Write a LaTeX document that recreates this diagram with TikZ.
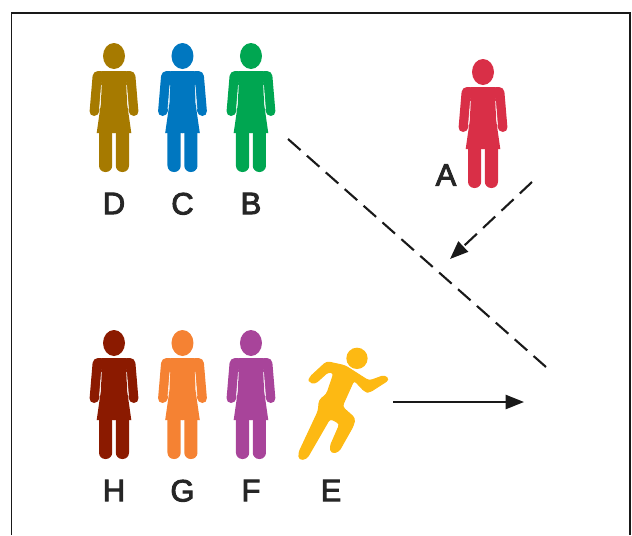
\documentclass[tikz,border=0pt]{standalone}
\usepackage{fontspec}
\setmainfont{Liberation Sans}
\newfontfamily\labelfont{Liberation Sans}[FakeBold=3]
\usetikzlibrary{positioning,arrows.meta}
\definecolor{dcol}{HTML}{A67A00}
\definecolor{ccol}{HTML}{0077C0}
\definecolor{bcol}{HTML}{00A651}
\definecolor{acol}{HTML}{D92F47}
\definecolor{hcol}{HTML}{8B1A00}
\definecolor{gcol}{HTML}{F58233}
\definecolor{fcol}{HTML}{A8449A}
\definecolor{ecol}{HTML}{FDB913}
\newcommand\dxp{1.37cm}
\newcommand\lab{2.99cm}
\tikzset{
  letter/.style={inner sep=0pt, text=black!85, font=\labelfont\fontsize{17.6}{20}\selectfont},
  link/.style={line width=1.2pt, black!90},
  broken/.style={dash pattern=on 9.5pt off 4.85pt},
  person/.pic={
    \fill[#1] (0,13) ellipse [x radius=11, y radius=13];
    \foreach \sx in {-1,1} {
      \begin{scope}[xscale=\sx]
        % torso and skirt
        \fill[#1] (0.3,28) -- (-12,28) -- (-13,60) -- (-17.3,90) -- (0.3,90) -- cycle;
        % arm
        \fill[#1, rounded corners=2.8pt] (-8,28) -- (-21,28) -- (-24.8,73) -- (-15,73) -- (-12.5,40) -- (-8,40) -- cycle;
        % leg
        \fill[#1, rounded corners=3.6pt] (-15,80) -- (-15,129) -- (-1.8,129) -- (-1.8,80) -- cycle;
        \draw[white, line width=0.3pt] (-12.6,42) -- (-14.6,66);
      \end{scope}
    }
  }
}
\begin{document}
\begin{tikzpicture}[x=0.02cm, y=-0.02cm]
  \useasboundingbox (0,0) rectangle (632,535);
  % frame, open at the bottom
  \coordinate (fa) at (11.5,535);
  \coordinate (fb) at (11.5,13);
  \coordinate (fc) at (630,13);
  \coordinate (fd) at (630,535);
  \draw[line width=0.8pt, black!90] (fa) -- (fb) -- (fc) -- (fd);
  % upper row
  \coordinate (d) at (114,43);
  \coordinate [right=\dxp of d] (c);
  \coordinate [right=\dxp of c] (b);
  \coordinate (a) at (483,59);
  % lower row
  \coordinate (h) at (114,330);
  \coordinate [right=\dxp of h] (g);
  \coordinate [right=\dxp of g] (f);
  \coordinate (e) at (331,330);
  \pic at (d) {person=dcol};
  \pic at (c) {person=ccol};
  \pic at (b) {person=bcol};
  \pic at (a) {person=acol};
  \pic at (h) {person=hcol};
  \pic at (g) {person=gcol};
  \pic at (f) {person=fcol};
  % runner
  \begin{scope}[shift={(290,335)}, x=0.02cm/3, y=-0.02cm/3]
    \fill[ecol] (201,70) circle [radius=32];
    \filldraw[ecol, line width=0.6pt, line join=round, rounded corners=1.8pt] (58,128) -- (110,80) -- (165,92) -- (237,138) -- (284,121) -- (297,134)
      -- (238,172) -- (225,170) -- (192,135) -- (156,215) -- (195,250) -- (190,272) -- (146,350) -- (124,354)
      -- (120,335) -- (150,266) -- (120,250) -- (50,371) -- (28,374) -- (26,354) -- (85,228)
      -- (88,195) -- (110,178) -- (132,114) -- (115,110) -- (75,146) -- (57,141) -- cycle;
  \end{scope}
  % labels
  \node[letter, below=\lab of d] (ld) {D};
  \node[letter, below=\lab of c] (lc) {C};
  \node[letter, below=\lab of b] (lb) {B};
  \node[letter] (la) at (446,175) {A};
  \node[letter, below=\lab of h] (lh) {H};
  \node[letter, below=\lab of g] (lg) {G};
  \node[letter, below=\lab of f] (lf) {F};
  \node[letter, below=\lab of e] (le) {E};
  % mirror line and rays
  \coordinate (m1) at (288,139);
  \coordinate (m2) at (546,367);
  \coordinate (r1) at (532,182);
  \coordinate (r2) at (450,259);
  \coordinate (s1) at (393,402);
  \coordinate (s2) at (524,402);
  \draw[link, broken] (m1) -- (m2);
  \draw[link, broken, -{Triangle[length=10.4pt, width=8pt]}] (r1) -- (r2);
  \draw[link, -{Triangle[length=10.4pt, width=8pt]}] (s1) -- (s2);
\end{tikzpicture}
\end{document}
